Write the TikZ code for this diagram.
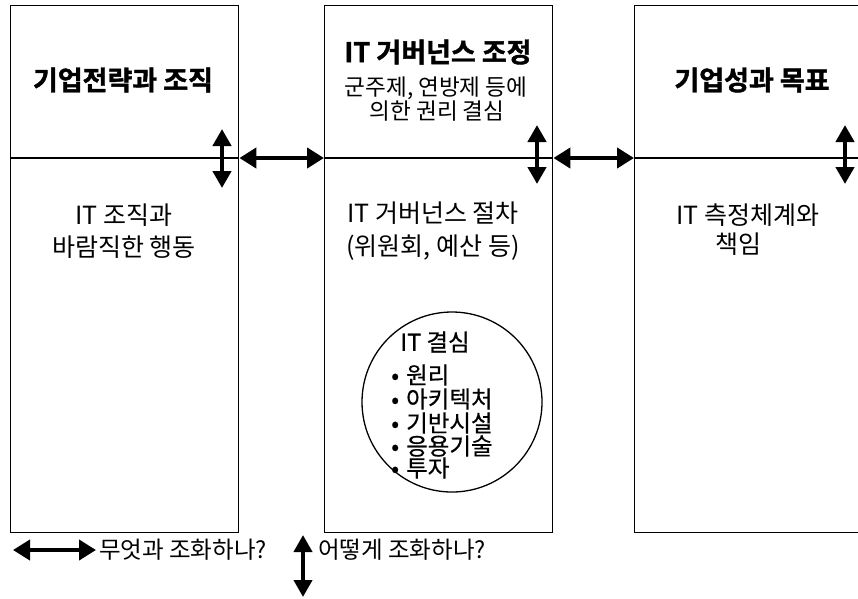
\documentclass[tikz,border=0pt]{standalone}
\usepackage{fontspec}
\setmainfont{Noto Sans CJK KR}[BoldFont={Noto Sans CJK KR Bold}]
\usetikzlibrary{arrows.meta}
\tikzset{
  box/.style={draw=black, line width=1.4pt, anchor=north west, minimum width=228pt, minimum height=527pt, inner sep=0pt},
  divider/.style={line width=1.2pt},
  harrow/.style={line width=4.5pt, {Triangle[length=17pt,width=20pt]}-{Triangle[length=17pt,width=20pt]}},
  varrow/.style={line width=4.5pt, {Triangle[length=17pt,width=18pt]}-{Triangle[length=17pt,width=18pt]}},
  title/.style={font=\fontsize{27}{29}\selectfont\bfseries\addfontfeature{FakeBold=1.5}, inner sep=0pt},
  body/.style={font=\fontsize{25}{27}\selectfont, inner sep=0pt},
  sub/.style={font=\fontsize{22.6}{24}\selectfont, inner sep=0pt},
  legend/.style={font=\fontsize{23.5}{25}\selectfont, inner sep=0pt, anchor=west},
  item/.style={font=\fontsize{23.5}{25}\selectfont\addfontfeature{FakeBold=0.6}, inner sep=0pt, anchor=west},
}
\begin{document}
\begin{tikzpicture}[x=1pt, y=-1pt]
\clip (0,0) rectangle (858,598);
\fill[white] (0,0) rectangle (858,598);
% boxes
\node[box] (L) at (10,5) {};
\node[box] (M) at (324,5) {};
\node[box, minimum width=260pt] (R) at (634,5) {};
% dividers
\coordinate (d) at (0,158);
\draw[divider] (L.west |- d) -- (L.east |- d);
\draw[divider] (M.west |- d) -- (M.east |- d);
\draw[divider] (R.west |- d) -- (R.east |- d);
% horizontal arrows between boxes
\draw[harrow] (L.east |- d) -- (M.west |- d);
\draw[harrow] (M.east |- d) -- (R.west |- d);
% vertical arrows
\coordinate (la) at (222,129); \coordinate (lb) at (222,188);
\coordinate (ma) at (537,125); \coordinate (mb) at (537,184);
\coordinate (ra) at (845,125); \coordinate (rb) at (845,184);
\draw[varrow] (la) -- (lb);
\draw[varrow] (ma) -- (mb);
\draw[varrow] (ra) -- (rb);
% left box text
\node[title] (lt) at (123,80) {기업전략과 조직};
\node[body] (l1) at (124,215) {IT 조직과};
\node[body] (l2) at (124,247) {바람직한 행동};
% middle box text
\node[title] (mt) at (438,52) {IT 거버넌스 조정};
\node[sub] (ms1) at (436,88) {군주제, 연방제 등에};
\node[sub] (ms2) at (437,111) {의한 권리 결심};
\node[body] (m1) at (433,213) {IT 거버넌스 절차};
\node[body] (m2) at (433,248) {(위원회, 예산 등)};
% circle
\node[draw, circle, line width=1.3pt, minimum size=180pt, inner sep=0pt] (C) at (452,402) {};
\node[item, anchor=center] (ct) at (435,342) {IT 결심};
\node[item] (c1) at (391,375) {•\hspace{7pt}원리};
\node[item] (c2) at (391,399) {•\hspace{7pt}아키텍처};
\node[item] (c3) at (391,423) {•\hspace{7pt}기반시설};
\node[item] (c4) at (391,446) {•\hspace{7pt}응용기술};
\node[item] (c5) at (391,468) {•\hspace{7pt}투자};
% right box text
\node[title] (rt) at (752,80) {기업성과 목표};
\node[body] (r1) at (748,215) {IT 측정체계와};
\node[body] (r2) at (738,244) {책임};
% legend
\coordinate (ha) at (13,550); \coordinate (hb) at (96,550);
\draw[harrow, line width=4pt] (ha) -- (hb);
\node[legend] (lg1) at (99,550) {무엇과 조화하나?};
\coordinate (va) at (303,535); \coordinate (vb) at (303,597);
\draw[varrow, line width=4pt] (va) -- (vb);
\node[legend] (lg2) at (318,550) {어떻게 조화하나?};
\end{tikzpicture}
\end{document}
